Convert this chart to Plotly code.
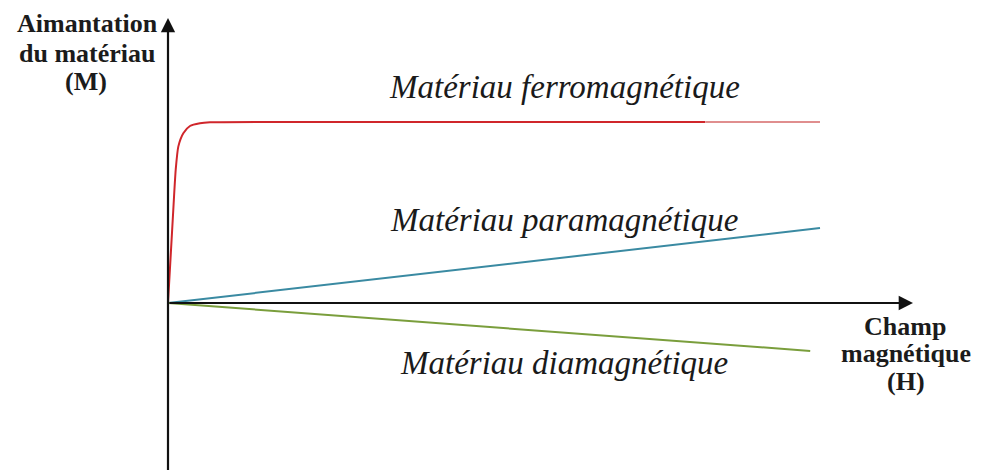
import plotly.graph_objects as go

# magnetisation curves, H in arbitrary units, M normalised to the ferro plateau
ferro_h = [0, 0.081, 0.118, 0.158, 0.235, 0.337, 0.49, 0.644, 3.0, 6.0, 8.24]
ferro_m = [0, 0.514, 0.735, 0.864, 0.938, 0.978, 0.993, 0.998, 1.0, 1.0, 1.0]
ferro_tail_h = [8.24, 10.0]
ferro_tail_m = [1.0, 1.0]
para_h = [0, 10.0]
para_m = [0, 0.414]
dia_h = [0, 9.85]
dia_m = [0, -0.265]

# the page body has an 8px margin, so the figure is a bit smaller than the window
PAD = 8
W, H = 981 - PAD, 470 - PAD
# pixel geometry of the drawing (origin of the axes and scale per unit), in window pixels
X0, Y0 = 168, 303
SX, SY = 65.2, 181.0


def hx(px):
    return (px - X0) / SX


def my(py):
    return (Y0 - py) / SY


fig = go.Figure()
fig.add_trace(go.Scatter(x=ferro_h, y=ferro_m, mode="lines",
                         line=dict(color="#d0262b", width=2, shape="spline", smoothing=0.6)))
fig.add_trace(go.Scatter(x=ferro_tail_h, y=ferro_tail_m, mode="lines",
                         line=dict(color="#e08e8e", width=2)))
fig.add_trace(go.Scatter(x=para_h, y=para_m, mode="lines",
                         line=dict(color="#3a8aa2", width=2)))
fig.add_trace(go.Scatter(x=dia_h, y=dia_m, mode="lines",
                         line=dict(color="#7a9e3c", width=2)))

# axes with arrow heads
axis = dict(text="", showarrow=True, arrowhead=2, arrowwidth=2.2, arrowsize=1.3,
            arrowcolor="#111111", xref="x", yref="y", axref="x", ayref="y")
fig.add_annotation(x=hx(913), y=0, ax=0, ay=0, **axis)
fig.add_annotation(x=0, y=my(18), ax=0, ay=my(480), **axis)

ital = dict(family="Liberation Serif", size=33, color="#1a1a1a")
for txt, cy in [("<i>Matériau ferromagnétique</i>", 87),
                ("<i>Matériau paramagnétique</i>", 220),
                ("<i>Matériau diamagnétique</i>", 363)]:
    fig.add_annotation(x=hx(564), y=my(cy), text=txt, showarrow=False,
                       xanchor="center", yanchor="middle", font=ital)

bold = dict(family="Liberation Serif", size=26, color="#1b1b1b")
for txt, cx, cy in [("<b>Aimantation</b>", 87, 23), ("<b>du matériau</b>", 87, 53),
                    ("<b>(M)</b>", 86, 81),
                    ("<b>Champ</b>", 905, 326), ("<b>magnétique</b>", 906, 353),
                    ("<b>(H)</b>", 906, 381)]:
    fig.add_annotation(x=hx(cx), y=my(cy), text=txt, showarrow=False,
                       xanchor="center", yanchor="middle", font=bold)

fig.update_layout(
    width=W, height=H,
    margin=dict(l=0, r=0, t=0, b=0),
    paper_bgcolor="white", plot_bgcolor="white",
    showlegend=False,
    xaxis=dict(range=[hx(PAD), hx(PAD + W)], visible=False, fixedrange=True),
    yaxis=dict(range=[my(PAD + H), my(PAD)], visible=False, fixedrange=True),
)

fig.write_html("out.html")
